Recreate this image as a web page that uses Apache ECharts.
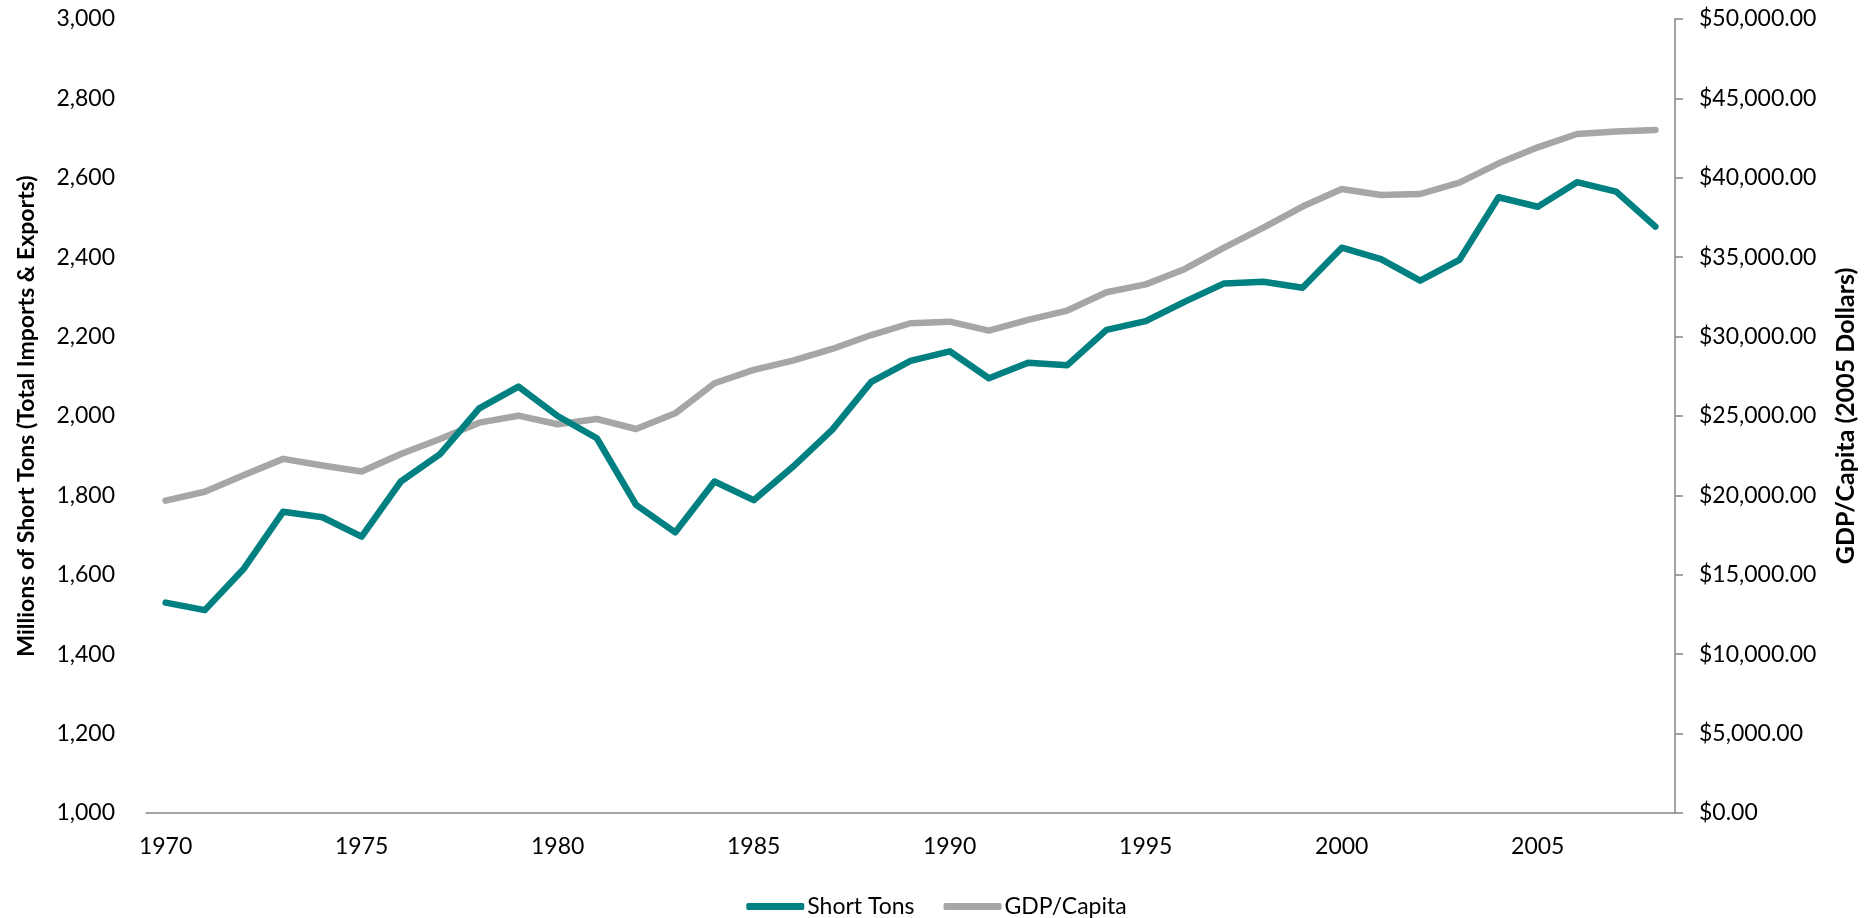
<!DOCTYPE html>
<html>
<head>
<meta charset="utf-8">
<script src="https://cdn.jsdelivr.net/npm/echarts@6/dist/echarts.min.js"></script>
<style>
html,body{margin:0;padding:0;background:#fff;}
#chart{width:1873px;height:918px;}
</style>
</head>
<body>
<div id="chart"></div>
<script>
const years = ['1970','1971','1972','1973','1974','1975','1976','1977','1978','1979',
  '1980','1981','1982','1983','1984','1985','1986','1987','1988','1989',
  '1990','1991','1992','1993','1994','1995','1996','1997','1998','1999',
  '2000','2001','2002','2003','2004','2005','2006','2007','2008'];
const shortTons = [1530,1511,1616,1759,1745,1696,1835,1904,2019,2074,
  2000,1944,1776,1707,1835,1788,1872,1965,2086,2139,
  2163,2095,2134,2128,2217,2239,2288,2334,2338,2323,
  2424,2395,2341,2393,2551,2527,2589,2565,2477];
const gdpPerCapita = [19670,20230,21290,22300,21880,21500,22610,23550,24580,25020,
  24480,24810,24180,25170,27060,27900,28490,29220,30100,30840,
  30940,30380,31050,31640,32790,33290,34260,35600,36860,38190,
  39300,38920,38980,39700,40910,41920,42760,42910,43010];
const leftAxisName = 'Millions of Short Tons (Total Imports & Exports)';
const rightAxisName = 'GDP/Capita (2005 Dollars)';
const seriesNames = ['Short Tons','GDP/Capita'];

const FONT = 'Lato';
const chart = echarts.init(document.getElementById('chart'), null, {renderer:'canvas'});
chart.setOption({
  animation: false,
  backgroundColor: '#ffffff',
  textStyle: {fontFamily: FONT, color: '#000'},
  grid: {left: 146, right: 198, top: 19, bottom: 105, containLabel: false},
  legend: {
    data: seriesNames,
    left: 'center',
    top: 890,
    itemWidth: 58,
    itemHeight: 7,
    itemGap: 29,
    icon: 'roundRect',
    textStyle: {fontFamily: FONT, fontSize: 23, color: '#000', padding: [0,0,0,-2]}
  },
  xAxis: {
    type: 'category',
    data: years,
    boundaryGap: true,
    axisLine: {show: true, lineStyle: {color: '#868686', width: 1.5}},
    axisTick: {show: false},
    axisLabel: {interval: 4, margin: 22, fontSize: 23, color: '#000', fontFamily: FONT},
    splitLine: {show: false}
  },
  yAxis: [
    {
      type: 'value',
      position: 'left',
      min: 1000, max: 3000, interval: 200,
      name: leftAxisName,
      nameLocation: 'middle',
      nameRotate: 90,
      nameGap: 108,
      nameTextStyle: {fontFamily: FONT, fontWeight: 'bold', fontSize: 23, color: '#000'},
      axisLine: {show: false},
      axisTick: {show: false},
      splitLine: {show: false},
      axisLabel: {margin: 31, fontSize: 23, color: '#000', fontFamily: FONT,
        formatter: v => v.toLocaleString('en-US')}
    },
    {
      type: 'value',
      position: 'right',
      min: 0, max: 50000, interval: 5000,
      name: rightAxisName,
      nameLocation: 'middle',
      nameRotate: 90,
      nameGap: 158,
      nameTextStyle: {fontFamily: FONT, fontWeight: 'bold', fontSize: 25, color: '#000'},
      axisLine: {show: true, lineStyle: {color: '#868686', width: 1.5}},
      axisTick: {show: true, inside: false, length: 8, lineStyle: {color: '#868686', width: 1.5}},
      splitLine: {show: false},
      axisLabel: {margin: 24, fontSize: 23, color: '#000', fontFamily: FONT,
        formatter: v => '$' + v.toLocaleString('en-US', {minimumFractionDigits: 2, maximumFractionDigits: 2})}
    }
  ],
  series: [
    {
      name: seriesNames[0],
      type: 'line',
      yAxisIndex: 0,
      data: shortTons,
      showSymbol: false,
      symbol: 'none',
      color: '#008080',
      lineStyle: {width: 6.5, color: '#008080', cap: 'round', join: 'round'},
      z: 3
    },
    {
      name: seriesNames[1],
      type: 'line',
      yAxisIndex: 1,
      data: gdpPerCapita,
      showSymbol: false,
      symbol: 'none',
      color: '#A6A6A6',
      lineStyle: {width: 6.5, color: '#A6A6A6', cap: 'round', join: 'round'},
      z: 2
    }
  ]
});
</script>
</body>
</html>
